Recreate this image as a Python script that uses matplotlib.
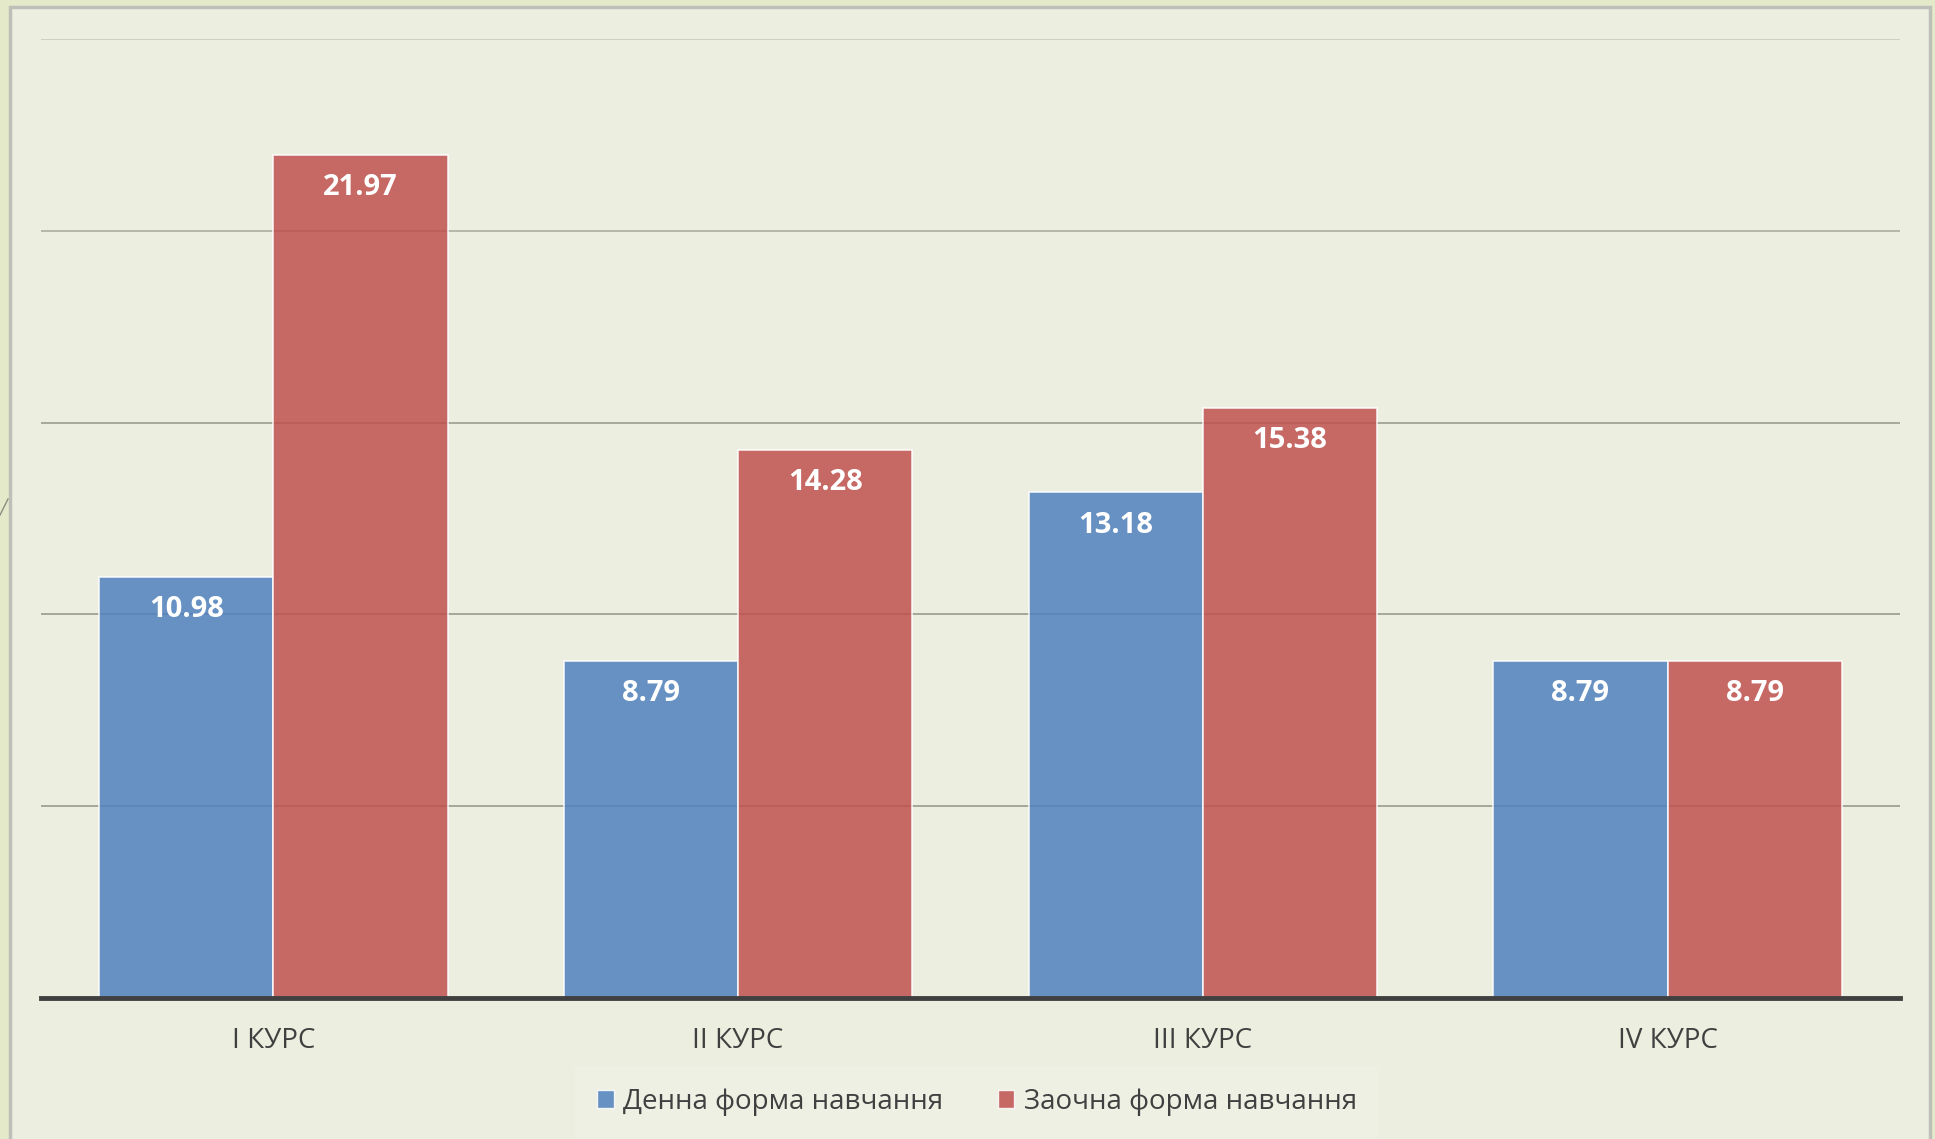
import numpy as np
import matplotlib
matplotlib.use("Agg")
import matplotlib.pyplot as plt
from matplotlib.patches import Patch, Rectangle
from matplotlib.lines import Line2D

plt.rcParams['font.family'] = ['Open Sans', 'DejaVu Sans']

courses = ["I КУРС", "II КУРС", "III КУРС", "IV КУРС"]
dayValues = [10.98, 8.79, 13.18, 8.79]
extramuralValues = [21.97, 14.28, 15.38, 8.79]
seriesNames = ["Денна форма навчання", "Заочна форма навчання"]
yTicks = [0, 5, 10, 15, 20, 25]

blue = "#4F81BD"
red = "#C0504D"
bg = "#ECEFDF"
textColor = "#404040"

fig = plt.figure(figsize=(19.35, 11.39), dpi=100)
fig.patch.set_facecolor("#E3E9C9")

# slide frame behind the chart
fig.patches.append(Rectangle((10 / 1935, -0.01), 1920 / 1935, 1.01 + (1132 - 1139) / 1139,
                             transform=fig.transFigure, facecolor=bg,
                             edgecolor="#BDBFB8", linewidth=2.5, zorder=-5))
fig.lines.append(Line2D([0, 8 / 1935], [624 / 1139, 640 / 1139],
                        transform=fig.transFigure, color="#8A8F80", lw=1, zorder=-4))

ax = fig.add_axes([41 / 1935, 141 / 1139, 1859 / 1935, (1100 - 141) / 1139])
ax.patch.set_alpha(0)

x = np.arange(len(courses))
w = 0.375

gridColors = ["#A4A799", "#A4A799", "#A6A99B", "#B4B7A9", "#CDD0C4"]
for val, c in zip(yTicks[1:], gridColors):
    ax.axhline(val, color=c, lw=1.4, zorder=1)

b1 = ax.bar(x - w / 2, dayValues, w, color=blue, alpha=0.85,
            edgecolor=(1, 1, 1, 0.45), linewidth=1.2, zorder=2)
b2 = ax.bar(x + w / 2, extramuralValues, w, color=red, alpha=0.85,
            edgecolor=(1, 1, 1, 0.45), linewidth=1.2, zorder=2)

for bars, vals in [(b1, dayValues), (b2, extramuralValues)]:
    for rect, v in zip(bars, vals):
        ax.annotate(f"{v:.2f}", (rect.get_x() + rect.get_width() / 2, v),
                    xytext=(0, -23.5), textcoords="offset points",
                    ha="center", va="center", color="white",
                    fontsize=21, fontweight="bold", zorder=3)

ax.set_xlim(-0.5, len(courses) - 0.5)
ax.set_ylim(0, 25)
ax.set_yticks([])
ax.set_xticks(x)
ax.set_xticklabels(courses, fontsize=20, color=textColor)
ax.tick_params(axis="x", length=0, pad=21)

for s in ["top", "right", "left"]:
    ax.spines[s].set_visible(False)
ax.spines["bottom"].set_color("#404040")
ax.spines["bottom"].set_linewidth(3.5)
ax.spines["bottom"].set_zorder(4)

handles = [Patch(facecolor=blue, alpha=0.85, edgecolor=(1, 1, 1, 0.5)),
           Patch(facecolor=red, alpha=0.85, edgecolor=(1, 1, 1, 0.5))]
leg = fig.legend(handles, seriesNames, loc="center", bbox_to_anchor=(0.505, 37 / 1139),
                 ncol=2, frameon=True, fontsize=20, handlelength=0.6, handleheight=0.6,
                 handletextpad=0.35, columnspacing=1.95, borderpad=0.8, fancybox=False,
                 labelcolor=textColor)
leg.get_frame().set_facecolor("#EFF1E6")
leg.get_frame().set_edgecolor("none")

fig.savefig("out.png", dpi=100, facecolor=fig.get_facecolor())
